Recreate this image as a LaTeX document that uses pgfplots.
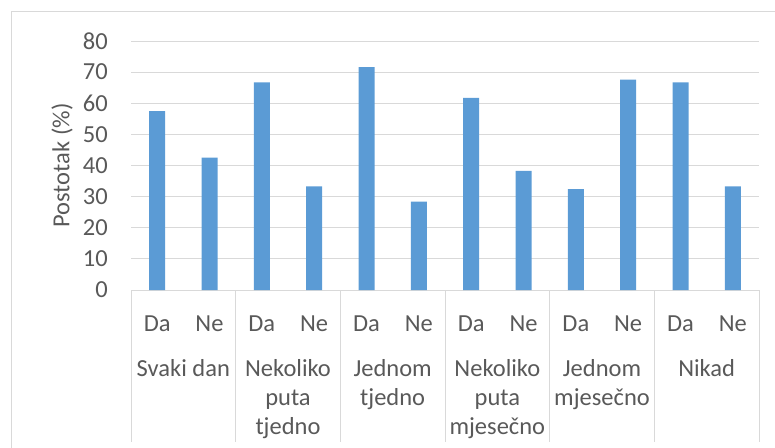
\documentclass[border=0pt]{standalone}
\usepackage{fontspec}
\setmainfont{Carlito}
\usepackage{pgfplots}
\pgfplotsset{compat=1.18}
\definecolor{barblue}{HTML}{5B9BD5}
\definecolor{gridgray}{HTML}{D9D9D9}
\definecolor{txtgray}{HTML}{595959}
\newcommand\cf{\fontsize{24.5bp}{29bp}\selectfont}
\begin{document}
\begin{tikzpicture}
\begin{axis}[
  at={(131bp,158bp)}, anchor=south west,
  scale only axis, width=628bp, height=249bp,
  xmin=-0.5, xmax=11.5, ymin=0, ymax=80,
  ytick={0,10,...,80},
  xtick={0,...,11},
  xticklabels={Da,Ne,Da,Ne,Da,Ne,Da,Ne,Da,Ne,Da,Ne},
  major tick length=0pt,
  axis line style={draw=none},
  ymajorgrids, major grid style={gridgray, line width=1bp},
  ybar, bar width=16bp,
  clip=false,
  tick label style={font=\cf, text=txtgray},
  xticklabel style={anchor=base, yshift=-41bp},
  yticklabel style={inner sep=0pt, xshift=-23bp},
  /pgf/number format/assume math mode=true,
  ylabel={Postotak (\%)},
  ylabel style={font=\cf, text=txtgray, at={(axis description cs:0,0.5)}, anchor=center, yshift=69bp},
]
\addplot[fill=barblue, draw=none] coordinates {
  (0,57.5) (1,42.5) (2,66.7) (3,33.3) (4,71.6) (5,28.4)
  (6,61.7) (7,38.3) (8,32.4) (9,67.6) (10,66.7) (11,33.3)};
\pgfplotsinvokeforeach{-0.5,1.5,3.5,5.5,7.5,9.5,11.5}{
  \draw[gridgray, line width=1bp] (axis cs:#1,0) -- ++(0pt,-152bp);
}
\begin{scope}[every node/.style={font=\cf, text=txtgray, anchor=base, inner sep=0pt}]
\node[yshift=-86bp] at (axis cs:0.5,0) {Svaki dan};
\node[yshift=-86bp] at (axis cs:2.5,0) {Nekoliko};
\node[yshift=-115bp] at (axis cs:2.5,0) {puta};
\node[yshift=-144bp] at (axis cs:2.5,0) {tjedno};
\node[yshift=-86bp] at (axis cs:4.5,0) {Jednom};
\node[yshift=-115bp] at (axis cs:4.5,0) {tjedno};
\node[yshift=-86bp] at (axis cs:6.5,0) {Nekoliko};
\node[yshift=-115bp] at (axis cs:6.5,0) {puta};
\node[yshift=-144bp] at (axis cs:6.5,0) {mjesečno};
\node[yshift=-86bp] at (axis cs:8.5,0) {Jednom};
\node[yshift=-115bp] at (axis cs:8.5,0) {mjesečno};
\node[yshift=-86bp] at (axis cs:10.5,0) {Nikad};
\end{scope}
\end{axis}
\draw[gridgray, line width=1bp] (11bp,-10bp) rectangle (790bp,436bp);
\pgfresetboundingbox
\path[use as bounding box] (0,0) rectangle (775bp,448bp);
\end{tikzpicture}
\end{document}
